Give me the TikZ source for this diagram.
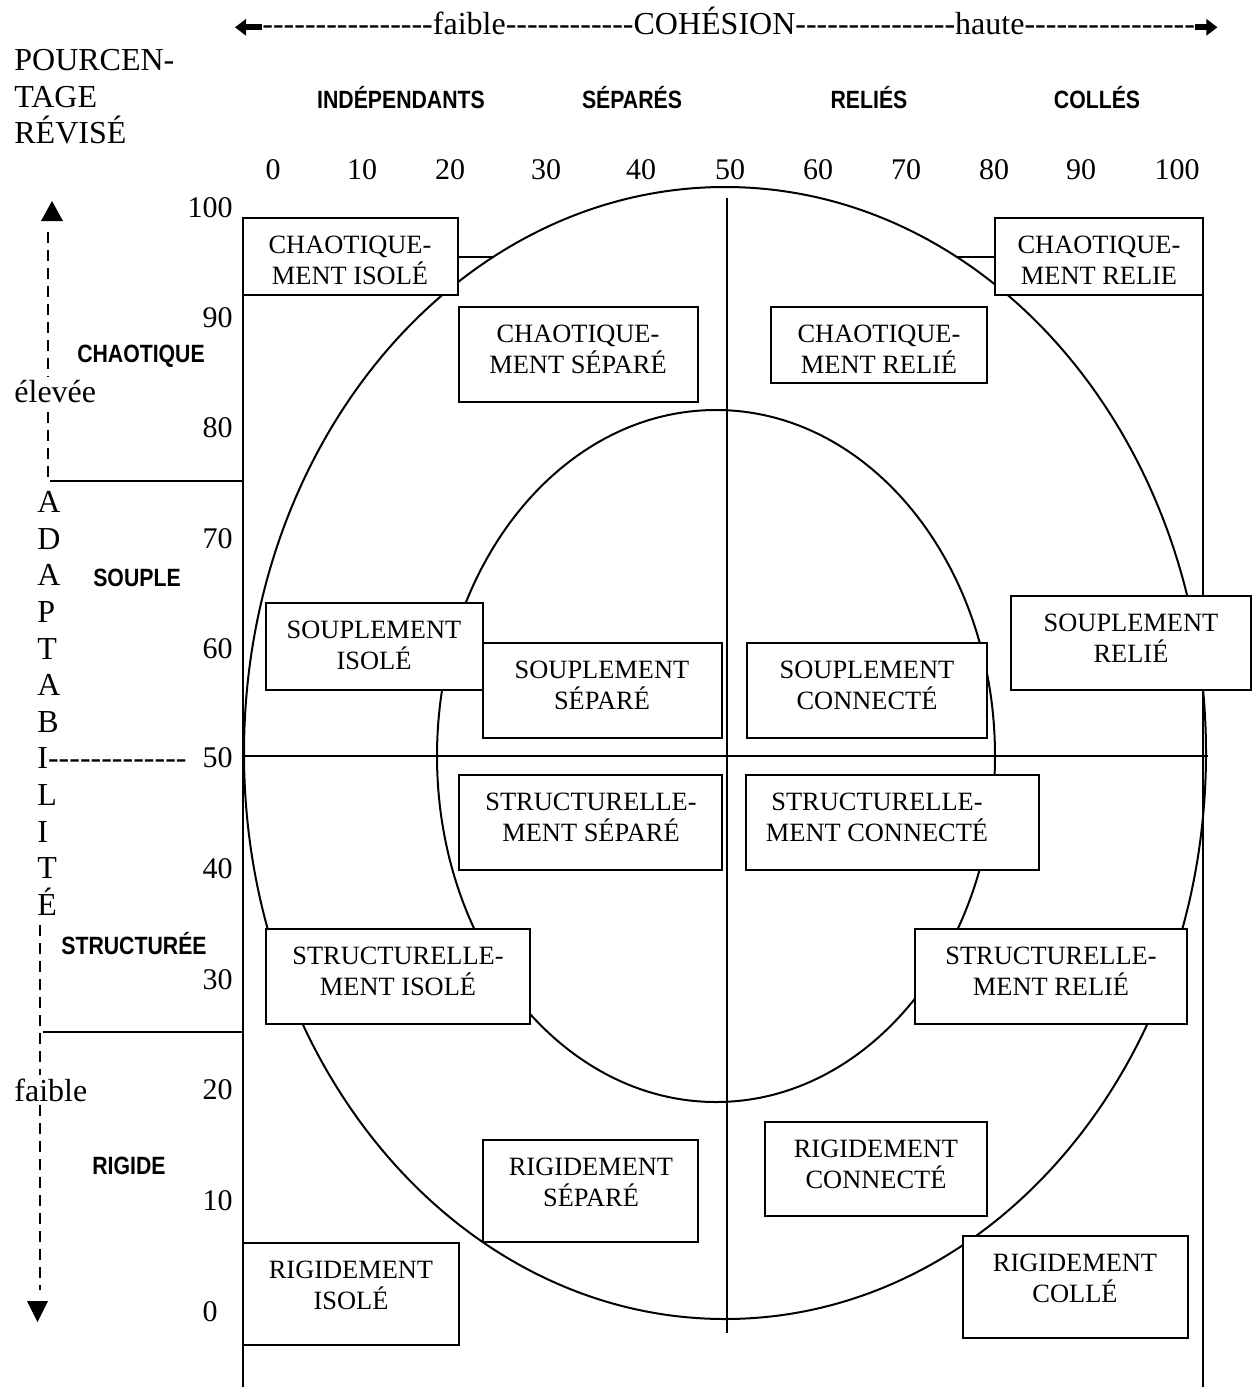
\documentclass[tikz,border=0pt]{standalone}
\usepackage{fontspec}
\setmainfont{Liberation Serif}[Ligatures=TeXOff]
\newfontfamily\hsans[FakeStretch=0.85]{Liberation Sans}
\usetikzlibrary{fit,arrows.meta}
\tikzset{
 boxst/.style={draw, line width=1pt, fill=white, inner sep=0pt},
 boxtxt/.style={align=center, font=\fontsize{13.2}{15.5}\selectfont, inner sep=0pt},
 num/.style={font=\fontsize{15}{18}\selectfont, inner sep=0pt},
 big/.style={font=\fontsize{16}{18.3}\selectfont, inner sep=0pt},
 lab/.style={font=\hsans\bfseries\fontsize{12.5}{15}\selectfont, inner sep=0pt},
 ln/.style={line width=1pt},
 dsh/.style={line width=0.6pt, dash pattern=on 5.5pt off 3.5pt},
 fatarrow/.style={line width=3pt, -{Triangle[length=5.5pt,width=8pt]}},
}
\newcommand\rbox[7]{%
 \node[boxst, fit={(#2,#3) (#4,#5)}] (#1) {};
 \node[boxtxt] (#1t) at (#6,#3+42) {#7};}
\begin{document}
\begin{tikzpicture}[x=0.5pt,y=-0.5pt]
\useasboundingbox (0,0) rectangle (1252,1387);
% ellipses
\draw[ln] (725,753) ellipse [x radius=481, y radius=566];
\draw[ln] (716,756) ellipse [x radius=279, y radius=346];
% axes and frame
\coordinate (vt) at (727,198); \coordinate (vb) at (727,1333);
\draw[ln] (vt) -- (vb);
\coordinate (hl) at (243,756); \coordinate (hr) at (1208,756);
\draw[ln] (hl) -- (hr);
\coordinate (lt) at (243,218); \coordinate (lb) at (243,1387);
\draw[ln] (lt) -- (lb);
\coordinate (rt) at (1203,218); \coordinate (rb) at (1203,1387);
\draw[ln] (rt) -- (rb);
\coordinate (ha1) at (50,481); \coordinate (ha2) at (243,481);
\draw[ln] (ha1) -- (ha2);
\coordinate (hb1) at (43,1032); \coordinate (hb2) at (243,1032);
\draw[ln] (hb1) -- (hb2);
% left dashed arrow
\coordinate (d1) at (48,232); \coordinate (d2) at (48,479);
\draw[dsh] (d1) -- (d2);
\coordinate (d3) at (40,925); \coordinate (d4) at (40,1290);
\draw[dsh] (d3) -- (d4);
\fill (41,221) -- (63,221) -- (52,201) -- cycle;
\fill (27,1301) -- (48,1301) -- (37.5,1322) -- cycle;
\node[big, anchor=west, fill=white, inner ysep=2pt] (elev) at (14,392) {élevée};
\node[big, anchor=west, fill=white, inner ysep=2pt] (faib) at (14,1090) {faible};
% boxes
\rbox{b1}{243}{218}{458}{295}{350}{CHAOTIQUE-\\MENT ISOLÉ}
\rbox{b2}{995}{218}{1203}{295}{1099}{CHAOTIQUE-\\MENT RELIE}
\rbox{b3}{459}{307}{698}{402}{578}{CHAOTIQUE-\\MENT SÉPARÉ}
\rbox{b4}{771}{307}{987}{383}{879}{CHAOTIQUE-\\MENT RELIÉ}
\rbox{b5}{266}{603}{483}{690}{374}{SOUPLEMENT\\ISOLÉ}
\rbox{b6}{483}{643}{722}{738}{602}{SOUPLEMENT\\SÉPARÉ}
\rbox{b7}{747}{643}{987}{738}{867}{SOUPLEMENT\\CONNECTÉ}
\rbox{b8}{1011}{596}{1251}{690}{1131}{SOUPLEMENT\\RELIÉ}
\rbox{b9}{459}{775}{722}{870}{591}{STRUCTURELLE-\\MENT SÉPARÉ}
\rbox{b10}{746}{775}{1039}{870}{877}{STRUCTURELLE-\\MENT CONNECTÉ}
\rbox{b11}{266}{929}{530}{1024}{398}{STRUCTURELLE-\\MENT ISOLÉ}
\rbox{b12}{915}{929}{1187}{1024}{1051}{STRUCTURELLE-\\MENT RELIÉ}
\rbox{b13}{483}{1140}{698}{1242}{591}{RIGIDEMENT\\SÉPARÉ}
\rbox{b14}{765}{1122}{987}{1216}{876}{RIGIDEMENT\\CONNECTÉ}
\rbox{b15}{243}{1243}{459}{1345}{351}{RIGIDEMENT\\ISOLÉ}
\rbox{b16}{963}{1236}{1188}{1338}{1075}{RIGIDEMENT\\COLLÉ}
% short links from corner boxes to the outer ellipse
\coordinate (e1) at (493,256.5); \coordinate (e2) at (956,256.5);
\draw[ln] (b1.east) -- (e1);
\draw[ln] (b2.west) -- (e2);
% top cohesion line
\node[big, anchor=base west] (coh) at (262,34.5) {----------------faible------------COHÉSION---------------haute----------------};
\draw[fatarrow] ([yshift=3.6pt]coh.base west) -- ++(-27,0);
\draw[fatarrow] ([yshift=3.6pt]coh.base east) -- ++(22,0);
% title at left
\node[big, anchor=west, align=left] (pct) at (14,97) {POURCEN-\\TAGE\\RÉVISÉ};
% column headers
\node[lab] (hind) at (401,98) {INDÉPENDANTS};
\node[lab] (hsep) at (632,98) {SÉPARÉS};
\node[lab] (hrel) at (869,98) {RELIÉS};
\node[lab] (hcol) at (1097,98) {COLLÉS};
% row labels
\node[lab] (rcha) at (141,356) {CHAOTIQUE};
\node[lab] (rsou) at (137,578) {SOUPLE};
\node[lab] (rstr) at (134,944) {STRUCTURÉE};
\node[lab] (rrig) at (129,1166) {RIGIDE};
% vertical word
\node[big, anchor=west, align=left] (adapt) at (37,703.5) {A\\D\\A\\P\\T\\A\\B\\I-------------\\L\\I\\T\\É};
% top numbers
\foreach \v/\xx in {0/273,10/362,20/450,30/546,40/641,50/730,60/818,70/906,80/994,90/1081,100/1177}
  \node[num] (tn\v) at (\xx,170) {\v};
% left numbers
\foreach \v/\yy in {100/208,90/318,80/428,70/539,60/649,50/758,40/869,30/980,20/1090,10/1201}
  \node[num, anchor=east] (ln\v) at (233,\yy) {\v};
\node[num, anchor=east] (ln0) at (218,1312) {0};
\end{tikzpicture}
\end{document}
